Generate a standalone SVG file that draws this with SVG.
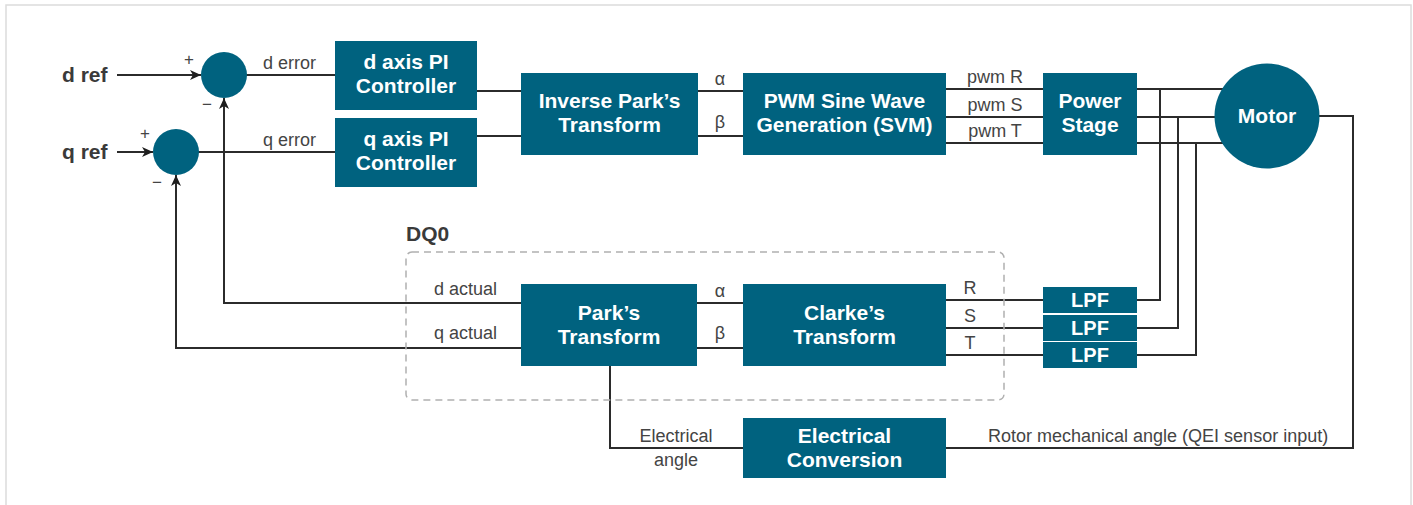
<svg xmlns="http://www.w3.org/2000/svg" width="1413" height="505" viewBox="0 0 1413 505">
<style>
.box{fill:#00627f}
.bt{font-family:"Liberation Sans",Arial,sans-serif;font-size:21px;font-weight:bold;fill:#fff;text-anchor:middle}
.lbl{font-family:"Liberation Sans",Arial,sans-serif;font-size:18px;fill:#444}
.hd{font-family:"Liberation Sans",Arial,sans-serif;font-size:21px;font-weight:bold;fill:#3a3a3a}
.sg{font-family:"Liberation Sans",Arial,sans-serif;font-size:17px;fill:#444;text-anchor:middle}
.ln{fill:none;stroke:#2b2b2b;stroke-width:2}
.mid{text-anchor:middle}
</style>
<defs>
<marker id="arr" markerUnits="userSpaceOnUse" markerWidth="12" markerHeight="10" refX="11" refY="5" orient="auto">
<path d="M0,0 L11,5 L0,10 L3,5 z" fill="#1e1e1e"/>
</marker>
</defs>
<rect x="0" y="0" width="1413" height="505" fill="#fff"/>
<rect x="6" y="5" width="1405" height="520" fill="none" stroke="#dcdcdc" stroke-width="1.5"/>

<g id="connectors">
<path class="ln" d="M117,75 H201" marker-end="url(#arr)"/>
<path class="ln" d="M117,152 H153" marker-end="url(#arr)"/>
<path class="ln" d="M224,75 H335"/>
<path class="ln" d="M176,152 H335"/>
<path class="ln" d="M521,303 H224 V98" marker-end="url(#arr)"/>
<path class="ln" d="M521,348 H176 V175" marker-end="url(#arr)"/>
<path class="ln" d="M477,91 H521"/>
<path class="ln" d="M477,136 H521"/>
<path class="ln" d="M698,91 H743"/>
<path class="ln" d="M698,136 H743"/>
<path class="ln" d="M946,89 H1043"/>
<path class="ln" d="M946,117 H1043"/>
<path class="ln" d="M946,143 H1043"/>
<path class="ln" d="M1137,89 H1267"/>
<path class="ln" d="M1137,117 H1267"/>
<path class="ln" d="M1137,143 H1267"/>
<path class="ln" d="M1160,89 V300 H1137"/>
<path class="ln" d="M1178,117 V328 H1137"/>
<path class="ln" d="M1196,143 V355 H1137"/>
<path class="ln" d="M946,300 H1043"/>
<path class="ln" d="M946,328 H1043"/>
<path class="ln" d="M946,355 H1043"/>
<path class="ln" d="M697,303 H743"/>
<path class="ln" d="M697,348 H743"/>
<path class="ln" d="M1267,116 H1353 V448 H946"/>
<path class="ln" d="M743,448 H610 V366"/>
</g>

<g id="labels">
<text class="hd" x="62" y="82">d ref</text>
<text class="hd" x="62" y="159">q ref</text>
<text class="sg" x="189" y="65">+</text>
<text class="sg" x="207" y="110">−</text>
<text class="sg" x="145" y="139">+</text>
<text class="sg" x="157" y="188">−</text>
<text class="lbl" x="263" y="69">d error</text>
<text class="lbl" x="263" y="146">q error</text>
<text class="lbl mid" x="720" y="85">α</text>
<text class="lbl mid" x="720" y="128">β</text>
<text class="lbl mid" x="995" y="83">pwm R</text>
<text class="lbl mid" x="995" y="111">pwm S</text>
<text class="lbl mid" x="995" y="137">pwm T</text>
<text class="hd" x="406" y="241">DQ0</text>
<text class="lbl" x="434" y="295">d actual</text>
<text class="lbl" x="434" y="339">q actual</text>
<text class="lbl mid" x="720" y="297">α</text>
<text class="lbl mid" x="720" y="339">β</text>
<text class="lbl mid" x="970" y="294">R</text>
<text class="lbl mid" x="970" y="322">S</text>
<text class="lbl mid" x="970" y="349">T</text>
<text class="lbl mid" x="676" y="442">Electrical</text>
<text class="lbl mid" x="676" y="466">angle</text>
<text class="lbl" x="988" y="442">Rotor mechanical angle (QEI sensor input)</text>
</g>

<rect id="dq0" x="406" y="252" width="598" height="148" rx="6" fill="none" stroke="#b0b0b0" stroke-width="1.5" stroke-dasharray="7,5"/>

<g id="sum-d"><circle class="box" cx="224" cy="75" r="23"/></g>
<g id="sum-q"><circle class="box" cx="176" cy="152" r="23"/></g>
<g id="d-pi"><rect class="box" x="335" y="41" width="142" height="69"/><text class="bt" x="406" y="69">d axis PI</text><text class="bt" x="406" y="93">Controller</text></g>
<g id="q-pi"><rect class="box" x="335" y="118" width="142" height="69"/><text class="bt" x="406" y="146">q axis PI</text><text class="bt" x="406" y="170">Controller</text></g>
<g id="inv-park"><rect class="box" x="521" y="73" width="177" height="82"/><text class="bt" x="609.5" y="108">Inverse Park’s</text><text class="bt" x="609.5" y="132">Transform</text></g>
<g id="pwm"><rect class="box" x="743" y="73" width="203" height="82"/><text class="bt" x="844.5" y="108">PWM Sine Wave</text><text class="bt" x="844.5" y="132">Generation (SVM)</text></g>
<g id="power"><rect class="box" x="1043" y="73" width="94" height="82"/><text class="bt" x="1090" y="108">Power</text><text class="bt" x="1090" y="132">Stage</text></g>
<g id="motor"><circle class="box" cx="1267" cy="116" r="52.5"/><text class="bt" x="1267" y="123">Motor</text></g>
<g id="park"><rect class="box" x="521" y="284" width="176" height="82"/><text class="bt" x="609" y="320">Park’s</text><text class="bt" x="609" y="344">Transform</text></g>
<g id="clarke"><rect class="box" x="743" y="284" width="203" height="82"/><text class="bt" x="844.5" y="320">Clarke’s</text><text class="bt" x="844.5" y="344">Transform</text></g>
<g id="lpf1"><rect class="box" x="1043" y="287" width="94" height="26"/><text class="bt" x="1090" y="307" style="font-size:20px">LPF</text></g>
<g id="lpf2"><rect class="box" x="1043" y="315" width="94" height="26"/><text class="bt" x="1090" y="335" style="font-size:20px">LPF</text></g>
<g id="lpf3"><rect class="box" x="1043" y="342" width="94" height="26"/><text class="bt" x="1090" y="362" style="font-size:20px">LPF</text></g>
<g id="elec-conv"><rect class="box" x="743" y="418" width="203" height="60"/><text class="bt" x="844.5" y="443">Electrical</text><text class="bt" x="844.5" y="467">Conversion</text></g>
</svg>
